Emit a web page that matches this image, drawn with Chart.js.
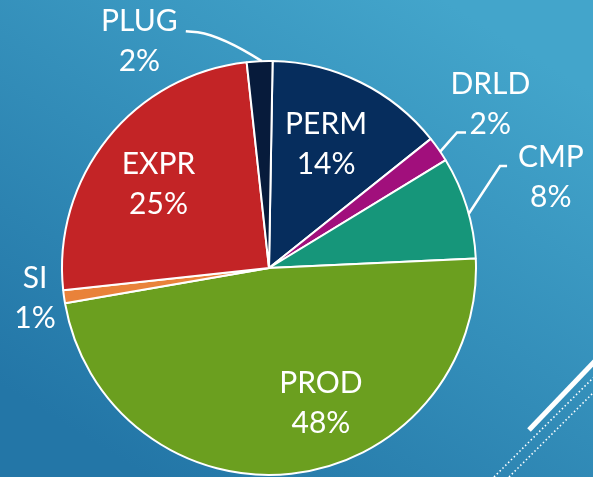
<!DOCTYPE html>
<html>
<head>
<meta charset="utf-8">
<script src="https://cdn.jsdelivr.net/npm/chart.js@4/dist/chart.umd.min.js"></script>
<style>
  html, body { margin: 0; padding: 0; }
  body { width: 593px; height: 477px; overflow: hidden; }
  #wrap { position: relative; width: 593px; height: 477px; }
</style>
</head>
<body>
<div id="wrap"><canvas id="pieChart" width="593" height="477"></canvas></div>
<script>
// بيانات الرسم
const categories = ['PERM', 'DRLD', 'CMP', 'PROD', 'SI', 'EXPR', 'PLUG'];
const shares = [14, 2, 8, 48, 1, 25, 2];
const sliceColors = ['#062d5d', '#a10f7c', '#16967a', '#6b9f1f', '#e9823a', '#c32426', '#071b3b'];

// مواضع التسميات: إزاحة الزاوية (درجات) ونسبة نصف القطر
const labelLayout = [
  { shift: -1.5, r: 0.66 },
  { shift: -1.5, r: 1.33, leader: { edge: 0.8, elbow: -0.8, elbowR: 1.12, stub: 9 } },
  { shift: -0.8, r: 1.43, leader: { edge: 1.8, elbow: -6.8, elbowR: 1.22, stub: 7 } },
  { shift: -14.8, r: 0.70 },
  { shift: 0.6, r: 1.14 },
  { shift: -1.6, r: 0.67 },
  { shift: -27.2, r: 1.26, leader: { edge: 0.6, elbow: -14.2, elbowR: 1.19, stub: -12, curve: true } },
];

const deg = Math.PI / 180;

// الخلفية والخطوط الزخرفية
const backdrop = {
  id: 'backdrop',
  beforeDraw(chart) {
    const { ctx, width, height } = chart;
    ctx.save();
    const g = ctx.createLinearGradient(width * 0.75, 0, width * 0.25, height);
    g.addColorStop(0, '#43a5cb');
    g.addColorStop(1, '#2376a7');
    ctx.fillStyle = g;
    ctx.fillRect(0, 0, width, height);

    ctx.strokeStyle = '#ffffff';
    ctx.lineWidth = 5;
    ctx.beginPath();
    ctx.moveTo(529, 430);
    ctx.lineTo(596, 360);
    ctx.stroke();

    ctx.lineWidth = 1.6;
    ctx.setLineDash([1.5, 2.5]);
    ctx.beginPath();
    ctx.moveTo(494, 477);
    ctx.lineTo(595, 376);
    ctx.moveTo(509, 477);
    ctx.lineTo(595, 391);
    ctx.stroke();
    ctx.restore();
  }
};

// التسميات والخطوط الموجهة
const sliceLabels = {
  id: 'sliceLabels',
  afterDatasetsDraw(chart) {
    const { ctx } = chart;
    const meta = chart.getDatasetMeta(0);
    ctx.save();
    ctx.fillStyle = '#ffffff';
    ctx.strokeStyle = '#ffffff';
    ctx.font = '30px Lato, "Open Sans", sans-serif';
    ctx.textAlign = 'center';
    ctx.textBaseline = 'middle';
    meta.data.forEach((arc, i) => {
      const p = arc.getProps(['x', 'y', 'startAngle', 'endAngle', 'outerRadius'], true);
      const mid = (p.startAngle + p.endAngle) / 2;
      const lay = labelLayout[i];
      const a = mid + lay.shift * deg;
      const lx = p.x + Math.cos(a) * p.outerRadius * lay.r;
      const ly = p.y + Math.sin(a) * p.outerRadius * lay.r;
      ctx.fillText(categories[i], lx, ly - 20);
      ctx.fillText(shares[i] + '%', lx, ly + 20);

      if (lay.leader) {
        const L = lay.leader;
        const ea = mid + L.edge * deg;
        const ex = p.x + Math.cos(ea) * p.outerRadius;
        const ey = p.y + Math.sin(ea) * p.outerRadius;
        const ba = mid + L.elbow * deg;
        const bx = p.x + Math.cos(ba) * p.outerRadius * L.elbowR;
        const by = p.y + Math.sin(ba) * p.outerRadius * L.elbowR;
        ctx.lineWidth = 2.5;
        ctx.beginPath();
        ctx.moveTo(ex, ey);
        if (L.curve) {
          ctx.quadraticCurveTo(bx + 25, by + 4, bx, by);
        } else {
          ctx.lineTo(bx, by);
        }
        ctx.lineTo(bx + L.stub, by - (L.curve ? 1 : 0));
        ctx.stroke();
      }
    });
    ctx.restore();
  }
};

new Chart(document.getElementById('pieChart'), {
  type: 'pie',
  data: {
    labels: categories,
    datasets: [{
      data: shares,
      backgroundColor: sliceColors,
      borderColor: '#ffffff',
      borderWidth: 2,
    }]
  },
  options: {
    responsive: false,
    animation: false,
    rotation: 1,
    layout: { padding: { left: 61, right: 116, top: 60, bottom: 1 } },
    plugins: {
      legend: { display: false },
      tooltip: { enabled: false }
    }
  },
  plugins: [backdrop, sliceLabels]
});
</script>
</body>
</html>
